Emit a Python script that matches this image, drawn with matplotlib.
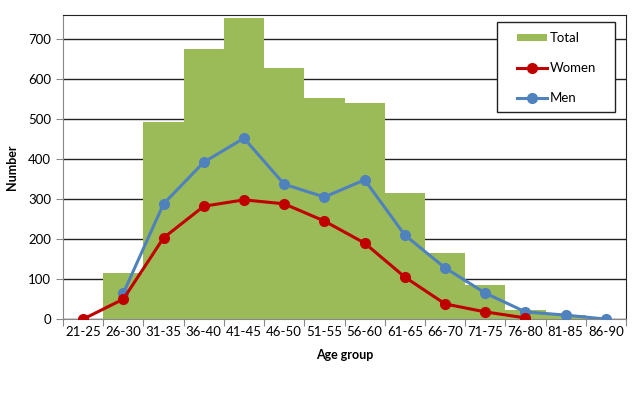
import matplotlib
matplotlib.use("Agg")
import matplotlib.pyplot as plt
from matplotlib.patches import Rectangle
import numpy as np

categories = ["21-25", "26-30", "31-35", "36-40", "41-45", "46-50", "51-55",
              "56-60", "61-65", "66-70", "71-75", "76-80", "81-85", "86-90"]
total = [0, 115, 492, 675, 752, 627, 552, 540, 315, 166, 85, 22, 10, 0]
women = [0, 50, 203, 282, 298, 288, 245, 190, 105, 38, 18, 3]
men = [None, 65, 288, 392, 452, 337, 305, 348, 210, 128, 65, 18, 10, 0]

plt.rcParams['font.family'] = ['Lato', 'DejaVu Sans']

W, H = 643, 393
fig = plt.figure(figsize=(W / 100, H / 100), dpi=100)
ax = fig.add_axes([0.098, 0.188, 0.8756, 0.774])

x = np.arange(len(categories))
bars = ax.bar(x, total, width=1.0, color="#9BBB59", label="Total", zorder=2)

xw = x[:len(women)]
lw_, = ax.plot(xw, women, color="#C00000", lw=2.2, marker="o", ms=7, label="Women", zorder=4)
xm = [i for i, v in enumerate(men) if v is not None]
ym = [v for v in men if v is not None]
lm_, = ax.plot(xm, ym, color="#4F81BD", lw=2.2, marker="o", ms=7, label="Men", zorder=3)

ax.set_xlim(-0.5, len(categories) - 0.5)
ax.set_ylim(0, 760)
ax.set_yticks(range(0, 800, 100))
ax.yaxis.grid(True, color="#222222", lw=1.0, zorder=1)
ax.set_axisbelow(True)

ax.set_xticks(np.arange(-0.5, len(categories), 1.0))
ax.set_xticklabels([])
ax.set_xticks(x, minor=True)
ax.set_xticklabels(categories, minor=True)
ax.tick_params(axis="x", which="minor", length=0, labelsize=9.5, pad=5)
ax.tick_params(axis="x", which="major", length=5, color="#888888")
ax.tick_params(axis="y", length=5, color="#888888", labelsize=9.5)

for s in ["top", "right"]:
    ax.spines[s].set_color("#222222")
for s in ["left", "bottom"]:
    ax.spines[s].set_color("#888888")

ax.set_xlabel("Age group", fontweight="bold", fontsize=9, labelpad=8)
ax.set_ylabel("Number", fontweight="bold", fontsize=9, labelpad=7)

# legend frame
frame = Rectangle((497 / W, 1 - 112 / H), 118 / W, 90 / H, transform=fig.transFigure,
                  facecolor="white", edgecolor="#222222", lw=1.0, zorder=10)
fig.patches.append(frame)

leg = fig.legend([bars, lw_, lm_], ["Total", "Women", "Men"],
                 loc="upper left", bbox_to_anchor=(517 / W, 1 - 32 / H),
                 bbox_transform=fig.transFigure, fontsize=9.5,
                 frameon=False, labelspacing=1.38, handlelength=2.3, handleheight=0.5,
                 handletextpad=0.2, borderpad=0.0, borderaxespad=0.0)
leg.set_zorder(11)

fig.savefig("out.png", dpi=100)
